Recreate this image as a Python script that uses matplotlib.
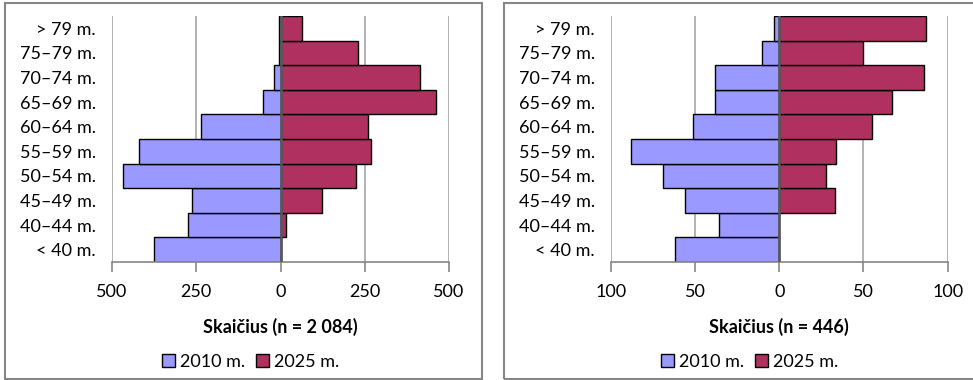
import numpy as np
import matplotlib.pyplot as plt
from matplotlib.patches import Rectangle

plt.rcParams['font.family'] = ['Lato', 'DejaVu Sans']
plt.rcParams['font.size'] = 13

# age groups, bottom to top
ages = ['< 40 m.', '40–44 m.', '45–49 m.', '50–54 m.', '55–59 m.',
        '60–64 m.', '65–69 m.', '70–74 m.', '75–79 m.', '> 79 m.']

# left panel (n = 2 084)
left_2010 = [374, 274, 264, 467, 420, 237, 51, 19, 5, 4]
left_2025 = [0, 17, 122, 223, 268, 259, 461, 414, 231, 63]

# right panel (n = 446)
right_2010 = [62, 36, 56, 69, 88, 51, 38, 38, 10, 3]
right_2025 = [0, 0, 33, 28, 34, 55, 67, 86, 50, 87]

col_2010 = '#9999FF'
col_2025 = '#B03060'
W, H = 973, 380

fig = plt.figure(figsize=(W / 100, H / 100), dpi=100)


def px(x0, y0, w, h):
    return [x0 / W, 1 - (y0 + h) / H, w / W, h / H]


# panel frames
for x0, x1 in [(5, 482), (504, 980)]:
    fig.patches.append(Rectangle((x0 / W, 1.5 / H), (x1 - x0) / W, (377 - 1.5) / H,
                                 transform=fig.transFigure, fill=False,
                                 edgecolor='#868686', lw=1.5))


def pyramid(ax, v2010, v2025, lim, ticks, label):
    y = np.arange(len(ages))
    for t in ticks:
        if t != 0:
            ax.axvline(t, color='#A6A6A6', lw=1.2, zorder=0)
    ax.barh(y, -np.array(v2010), height=1.0, color=col_2010,
            edgecolor='black', lw=1.0, zorder=2, label='2010 m.')
    ax.barh(y, v2025, height=1.0, color=col_2025,
            edgecolor='black', lw=1.0, zorder=2, label='2025 m.')
    ax.axvline(0, color='#595959', lw=1.8, zorder=3)
    ax.set_xlim(-lim, lim)
    ax.set_ylim(-0.5, len(ages) - 0.5)
    ax.set_xticks(ticks)
    ax.set_xticklabels([str(abs(t)) for t in ticks])
    ax.set_yticks(y)
    ax.set_yticklabels(ages)
    ax.tick_params(axis='y', length=0, pad=11.5)
    ax.tick_params(axis='x', length=7, width=1.2, color='#868686', pad=9)
    for s in ['top', 'right', 'left']:
        ax.spines[s].set_visible(False)
    ax.spines['bottom'].set_color('#868686')
    ax.spines['bottom'].set_linewidth(1.2)
    ax.set_xlabel(label, fontweight='bold', labelpad=13)


ax1 = fig.add_axes(px(112, 16, 337, 246))
pyramid(ax1, left_2010, left_2025, 500, [-500, -250, 0, 250, 500],
        'Skaičius (n = 2 084)')

ax2 = fig.add_axes(px(610.7, 16, 337, 246))
pyramid(ax2, right_2010, right_2025, 100, [-100, -50, 0, 50, 100],
        'Skaičius (n = 446)')

for ax, cx in [(ax1, 251), (ax2, 750)]:
    h, l = ax.get_legend_handles_labels()
    fig.legend(h, l, loc='center', bbox_to_anchor=(cx / W, 1 - 362 / H),
               ncol=2, frameon=False, handlelength=0.7, handleheight=0.7,
               handletextpad=0.3, columnspacing=0.6, borderpad=0)

fig.savefig('out.png', dpi=100)
